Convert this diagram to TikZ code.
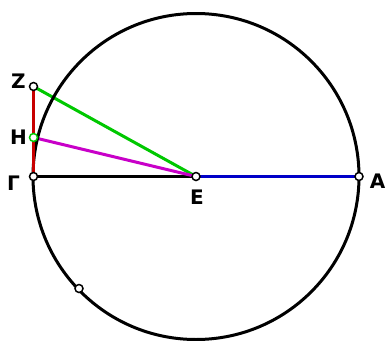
\documentclass[tikz,border=0pt]{standalone}
\usepackage{fontspec}
\setmainfont{DejaVu Sans}
\newfontfamily\labfont{DejaVu Sans Bold}
\begin{document}
\begin{tikzpicture}[x=1pt,y=-1pt,
  seg/.style={line width=3pt},
  pt/.style={circle,draw=black,fill=white,line width=1.5pt,inner sep=0pt,minimum size=8pt},
  lab/.style={font=\labfont\fontsize{20}{20}\selectfont,inner sep=0pt}]
\useasboundingbox (0,0) rectangle (388,340);
\definecolor{cgreen}{RGB}{0,200,0}
\definecolor{cmag}{RGB}{200,0,200}
\definecolor{cred}{RGB}{200,0,0}
\definecolor{cblue}{RGB}{0,0,200}
\coordinate (E) at (196,176.5);
\coordinate (A) at (359,176.5);
\coordinate (G) at (33.5,176.5);
\coordinate (Z) at (33.5,86.5);
\coordinate (H) at (33.5,137.5);
\coordinate (P) at (79,288.5);
\draw[seg,black] (G) -- (E);
\draw[seg,cblue] (E) -- (A);
\draw[seg,cgreen] (Z) -- (E);
\draw[seg,cmag] (H) -- (E);
\draw[black,line width=3pt] (E) circle[radius=163];
\draw[seg,cred] (Z) -- (G);
\node[pt] (nE) at (E) {};
\node[pt] (nA) at (A) {};
\node[pt] (nG) at (G) {};
\node[pt] (nZ) at (Z) {};
\node[pt,draw=cgreen] (nH) at (H) {};
\node[pt] (nP) at (P) {};
\node[lab] (lZ) at (18.5,81.5) {Z};
\node[lab] (lH) at (18.5,137) {H};
\node[lab] (lG) at (13.5,183) {Γ};
\node[lab] (lE) at (197,197.5) {E};
\node[lab] (lA) at (377.5,181.5) {A};
\end{tikzpicture}
\end{document}
